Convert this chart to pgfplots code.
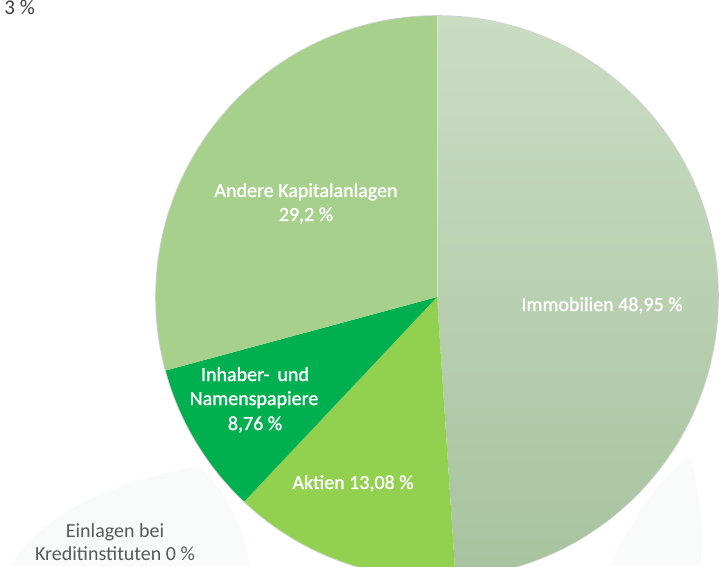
\documentclass[border=0pt]{standalone}
\usepackage{pgfplots}
\pgfplotsset{compat=1.18}
\usepackage{pgfplotstable}
\usepackage{fontspec}
\setmainfont{Carlito}
\newfontfamily\labelfont[FakeBold=1.2]{Carlito}
\definecolor{immotop}{HTML}{CADDC3}
\definecolor{immobot}{HTML}{A7C39E}
\definecolor{andere}{HTML}{A8D08D}
\definecolor{aktien}{HTML}{92D050}
\definecolor{inhaber}{HTML}{00B050}
\definecolor{darktext}{HTML}{595959}
\definecolor{wm}{HTML}{F9FBFA}

% Anteile in Prozent, im Uhrzeigersinn ab 12 Uhr
\pgfplotstableread{
label value
Immobilien 48.95
Aktien 13.08
Inhaber 8.76
Einlagen 0
Andere 29.2
}\piedata

\pgfplotstablegetelem{0}{value}\of\piedata \let\vA\pgfplotsretval
\pgfplotstablegetelem{1}{value}\of\piedata \let\vB\pgfplotsretval
\pgfplotstablegetelem{2}{value}\of\piedata \let\vC\pgfplotsretval
\pgfplotstablegetelem{3}{value}\of\piedata \let\vD\pgfplotsretval
\pgfplotstablegetelem{4}{value}\of\piedata \let\vE\pgfplotsretval
\pgfmathsetmacro{\aO}{90}
\pgfmathsetmacro{\aA}{\aO-3.6*\vA}
\pgfmathsetmacro{\aB}{\aA-3.6*\vB}
\pgfmathsetmacro{\aC}{\aB-3.6*\vC}
\pgfmathsetmacro{\aD}{\aC-3.6*\vD}
\pgfmathsetmacro{\aE}{\aD-3.6*\vE}

\begin{document}
\begin{tikzpicture}
\begin{scope}
\clip (0,0) rectangle (726pt,566pt);
\fill[white] (0,0) rectangle (726pt,566pt);
\begin{axis}[
  at={(0,0)}, anchor=origin,
  x=1pt, y=1pt,
  xmin=0, xmax=726, ymin=0, ymax=566,
  hide axis, clip=false,
]
% faint background watermark
\fill[wm] (axis cs:10,0) .. controls (axis cs:40,50) and (axis cs:110,85) .. (axis cs:200,100)
  .. controls (axis cs:230,70) and (axis cs:245,30) .. (axis cs:250,0) -- cycle;
\fill[wm] (axis cs:610,0) .. controls (axis cs:630,40) and (axis cs:650,80) .. (axis cs:690,110)
  .. controls (axis cs:700,70) and (axis cs:705,30) .. (axis cs:700,0) -- cycle;
% shadow ring
\draw[black!30, line width=1.6pt, opacity=0.6] (axis cs:437,269) circle[radius=281pt];
% slices
\path[top color=immotop, bottom color=immobot]
  (axis cs:437,269) -- ++(\aO:281pt) arc[start angle=\aO, end angle=\aA, radius=281pt] -- cycle;
\fill[aktien]
  (axis cs:437,269) -- ++(\aA:281pt) arc[start angle=\aA, end angle=\aB, radius=281pt] -- cycle;
\fill[inhaber]
  (axis cs:437,269) -- ++(\aB:281pt) arc[start angle=\aB, end angle=\aC, radius=281pt] -- cycle;
\fill[andere]
  (axis cs:437,269) -- ++(\aD:281pt) arc[start angle=\aD, end angle=\aE, radius=281pt] -- cycle;
\draw[black!12, line width=0.6pt] (axis cs:437,269) -- ++(90:281pt);
% labels
\begin{scope}[every node/.style={font=\labelfont\fontsize{20}{24}\selectfont, text=white, inner sep=0pt, anchor=base}]
\node at (axis cs:602,255) {Immobilien 48,95 \%};
\node at (axis cs:306,369) {Andere Kapitalanlagen};
\node at (axis cs:306,345) {29,2 \%};
\node at (axis cs:255,185) {Inhaber-\, und};
\node at (axis cs:254,161) {Namenspapiere};
\node at (axis cs:255,136) {8,76 \%};
\node at (axis cs:353,77) {Aktien 13,08 \%};
\node[text=darktext, font=\fontsize{20}{24}\selectfont] at (axis cs:115,29) {Einlagen bei};
\node[text=darktext, font=\fontsize{20}{24}\selectfont] at (axis cs:115,6) {Kreditinstituten 0 \%};
\node[text=black!75, anchor=base east, font=\fontsize{21}{25}\selectfont] at (axis cs:35,551) {3 \%};
\end{scope}
\end{axis}
\end{scope}
\pgfresetboundingbox
\useasboundingbox (0,0) rectangle (726pt,566pt);
\end{tikzpicture}
\end{document}
